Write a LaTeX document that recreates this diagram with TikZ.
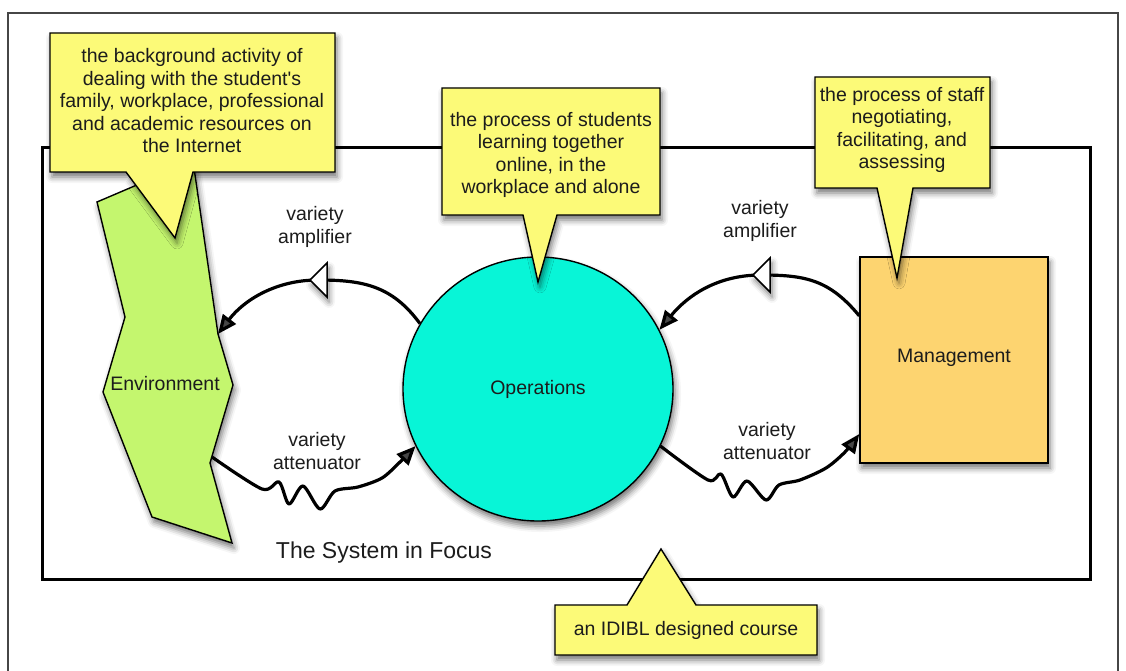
\documentclass[tikz,border=0pt]{standalone}
\usepackage{fontspec}
\setmainfont{Liberation Sans}
\usetikzlibrary{arrows.meta,shapes.geometric,shadows.blur}

\definecolor{noteyellow}{RGB}{252,250,120}
\definecolor{envgreen}{RGB}{196,246,110}
\definecolor{opscyan}{RGB}{8,245,215}
\definecolor{mgmtorange}{RGB}{253,212,112}
\definecolor{inkgray}{RGB}{28,28,28}
\definecolor{framegray}{RGB}{70,70,70}

\begin{document}
\begin{tikzpicture}[x=1pt,y=-1pt,
  every node/.style={font=\fontsize{19.5}{22.5}\selectfont, text=inkgray},
  softshadow/.style={blur shadow={shadow xshift=2pt, shadow yshift=-5pt,
      shadow blur radius=6pt, shadow opacity=55}},
  note/.style={draw=black, line width=1.4pt, fill=noteyellow, line join=miter, softshadow},
  notetext/.style={align=center, inner sep=0pt},
  body/.style={draw=black, line width=1.4pt, softshadow},
  conn/.style={line width=3.2pt, -{Triangle[length=19pt,width=16pt]}},
  ampmark/.style={draw=black, fill=white, line width=1.5pt, line join=miter, softshadow},
  flowlabel/.style={align=center, inner sep=0pt}
]
\useasboundingbox (0,0) rectangle (1126,671);
\clip (0,0) rectangle (1126,671);

% page frame and the boundary of the system in focus
\draw[framegray, line width=1.5pt] (8,13) rectangle (1118,700);
\draw[black, line width=3pt] (42,148) rectangle (1090,579);
\node (sysname) at (384,553) {\fontsize{23}{26}\selectfont The System in Focus};

% Environment: an irregular polygon
\coordinate (e1) at (97,202);
\coordinate (e2) at (193,161);
\coordinate (envR) at (218,334);
\coordinate (e4) at (233,385);
\coordinate (e5) at (210,463);
\coordinate (e6) at (232,543);
\coordinate (e7) at (152,517);
\coordinate (e8) at (103,392);
\coordinate (e9) at (125,317);
\coordinate (envA) at (212,457);
\draw[body, fill=envgreen, line join=miter]
  (e1) -- (e2) -- (envR) -- (e4) -- (e5) -- (e6) -- (e7) -- (e8) -- (e9) -- cycle;
\node (env) at (165,384) {Environment};

% Operations and Management
\node[ellipse, body, fill=opscyan, minimum width=270pt, minimum height=264pt, inner sep=0pt]
  (ops) at (538,389) {Operations};
\node[rectangle, body, fill=mgmtorange, minimum width=188pt, minimum height=206pt, inner sep=0pt]
  (mgmt) at (954,360) {};
\node (mgmtlabel) at (954,358) {Management};

% variety amplifiers
\coordinate (ampL) at (318,280);
\coordinate (ampR) at (761,275);
\draw[conn] (ops.151) .. controls +(-28,-38) and +(45,0) .. (ampL)
  .. controls +(-42,0) and +(26,-34) .. (envR);
\draw[conn] (mgmt.155) .. controls +(-30,-36) and +(45,0) .. (ampR)
  .. controls +(-44,0) and +(28,-34) .. (ops.26);
\draw[ampmark] ([xshift=-8pt]ampL) -- ++(17,-17) -- ++(0,34) -- cycle;
\draw[ampmark] ([xshift=-8pt]ampR) -- ++(17,-17) -- ++(0,34) -- cycle;
\node[flowlabel] (ampLlabel) at (315,227) {variety\\amplifier};
\node[flowlabel] (ampRlabel) at (760,221) {variety\\amplifier};

% variety attenuators
\draw[conn, line join=round] plot[smooth, tension=0.5] coordinates {
  (envA) (262,489) (279,482) (289,504) (303,486) (320,509) (335,491)
  (358,487) (382,478) (400,462) (ops.205)};
\draw[conn, line join=round] plot[smooth, tension=0.5] coordinates {
  (ops.-25) (708,480) (721,474) (733,497) (747,481) (766,500) (779,485)
  (800,480) (826,468) (845,452) (mgmt.218.6)};
\node[flowlabel] (attLlabel) at (317,451) {variety\\attenuator};
\node[flowlabel] (attRlabel) at (767,441) {variety\\attenuator};

% notes
\draw[note] (50,33) -- (335,33) -- (335,172) -- (193,172) -- (175,238) -- (126,172)
  -- (50,172) -- cycle;
\node[notetext] (noteEnv) at (192,101) {the background activity of\\dealing with the
  student\textquotesingle s\\family, workplace, professional\\and academic resources on\\the Internet};

\draw[note] (442,88) -- (660,88) -- (660,215) -- (557,215) -- (538,282) -- (523,215)
  -- (442,215) -- cycle;
\node[notetext] (noteOps) at (551,155) {the process of students\\learning together\\online, in the\\workplace and alone};

\draw[note] (815,77) -- (990,77) -- (990,188) -- (913,188) -- (897,278) -- (877,188)
  -- (815,188) -- cycle;
\node[notetext] (noteMgmt) at (902,130) {the process of staff\\negotiating,\\facilitating, and\\assessing};

\draw[note] (555,605) -- (627,605) -- (661,549) -- (696,605) -- (817,605) -- (817,655)
  -- (555,655) -- cycle;
\node[notetext] (noteCourse) at (686,630) {an IDIBL designed course};
\end{tikzpicture}
\end{document}
